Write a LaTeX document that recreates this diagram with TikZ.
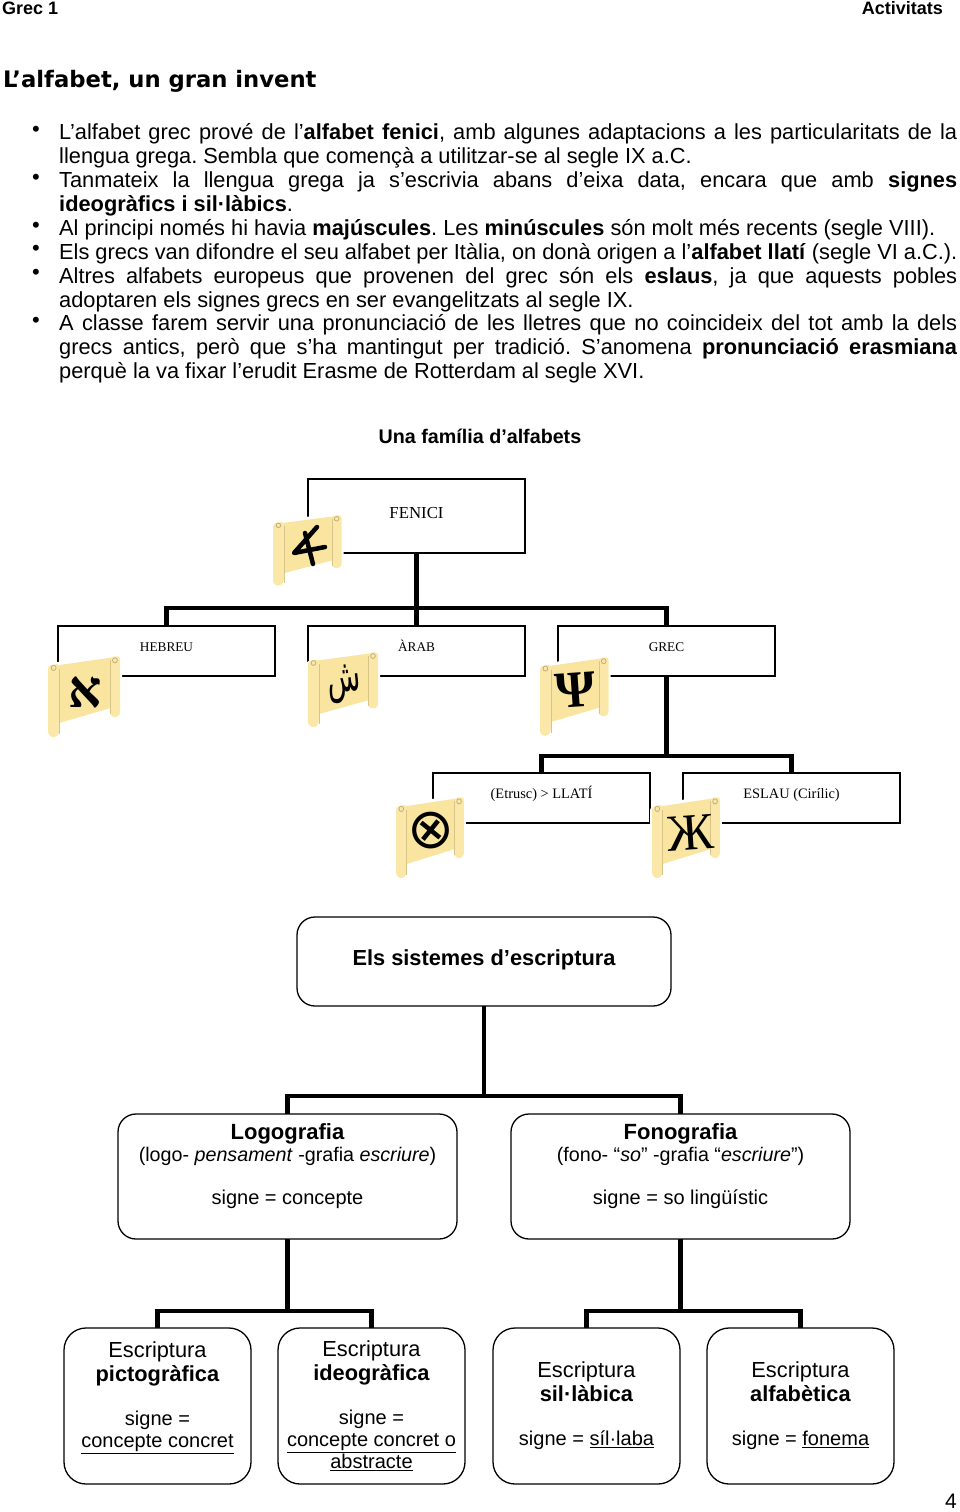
\documentclass[tikz,border=0pt]{standalone}
\usepackage{fontspec}
\setmainfont{Liberation Sans}
\newfontfamily\labelfont{Liberation Serif}
\newfontfamily\headfont{DejaVu Sans}
\newfontfamily\hebrewfont[Script=Hebrew]{Liberation Serif}
\newfontfamily\arabicfont[Script=Arabic]{DejaVu Sans}
\newfontfamily\symbolfont{DejaVu Sans}
\TeXXeTstate=1
\frenchspacing
\usetikzlibrary{positioning}

\tikzset{
  pics/scrollpaper/.style={code={
    % white halo, then the rolled sheet
    \draw[white, line width=4pt, line join=round] (5,8) -- (65,0) -- (70,3) -- (70,53) -- (60,55) -- (11,68) -- (5,75) -- (0,70) -- (0,12) -- cycle;
    \fill[paper] (6,9) -- (65,1) -- (65,47) -- (11,62) -- cycle;
    \fill[roll, rounded corners=3pt] (0,9) -- (11,7) -- (11,72) -- (6,76) -- (0,73) -- cycle;
    \fill[roll, rounded corners=3pt] (60,1) -- (70,0) -- (70,55) -- (65,57) -- (60,55) -- cycle;
    \draw[paperedge, line width=.8pt] (5.5,11) circle (2.4);
    \draw[paperedge, line width=.8pt] (65,4) circle (2.4);
    \draw[paperedge!60!paper, line width=.5pt] (11,12) -- (11,72) (60,4) -- (60,54);
  }}
}
\definecolor{paper}{HTML}{FAE5A0}
\definecolor{roll}{HTML}{FBE8A8}
\definecolor{paperedge}{HTML}{BFAE78}

\begin{document}
\begin{tikzpicture}[
  x=1pt, y=-1pt,
  famil/.style={
    rectangle,
    draw,
    line width=1.3pt,
    outer sep=0pt,
    anchor=north west,
    minimum width=217pt,
    minimum height=#1,
    text height=10pt,
    text depth=10pt,
    align=center
  },
  sistema/.style={
    rectangle,
    draw,
    line width=1.3pt,
    outer sep=0pt,
    rounded corners=18pt,
    anchor=north west,
    font=\fontsize{20}{22}\selectfont,
    align=center,
    inner sep=0pt
  },
  escriptura/.style={
    sistema,
    rounded corners=22pt,
    minimum width=187pt,
    minimum height=156pt
  },
  bullet/.style={
    text width=898pt,
    align=justify,
    anchor=north west,
    inner sep=0pt,
    font=\fontsize{21.8}{24}\selectfont
  },
  dot/.style={font=\fontsize{22}{24}\selectfont, inner sep=0pt},
  glyph/.style={inner sep=0pt, text=black},
  connection/.style={line width=4.6pt, draw=black}
]
\useasboundingbox (0,0) rectangle (960,1512);

% Page head
\node[anchor=west, inner sep=0pt, font=\bfseries\fontsize{18}{20}\selectfont] (grec1) at (2,8) {Grec 1};
\node[anchor=east, inner sep=0pt, font=\bfseries\fontsize{18}{20}\selectfont] (activ) at (943,8) {Activitats};
\node[anchor=west, inner sep=0pt, font=\headfont\bfseries\fontsize{22.7}{26}\selectfont] (titol) at (3,81) {L’alfabet, un gran invent};

% Text with bullets
\node[dot] (d1) at (36,131) {•};
\node[dot] (d2) at (36,179) {•};
\node[dot] (d3) at (36,227) {•};
\node[dot] (d4) at (36,250) {•};
\node[dot] (d5) at (36,274) {•};
\node[dot] (d6) at (36,322) {•};
\node[bullet] (p1) at (59,123) {L’alfabet grec prové de l’\textbf{alfabet fenici}, amb algunes adaptacions a les particularitats de la\linebreak llengua grega. Sembla que començà a utilitzar-se al segle IX a.C.};
\node[bullet] (p2) at (59,172) {Tanmateix la llengua grega ja s’escrivia abans d’eixa data, encara que amb \textbf{signes}\linebreak \textbf{ideogràfics i sil·làbics}.};
\node[bullet] (p3) at (59,219) {Al principi només hi havia \textbf{majúscules}. Les \textbf{minúscules} són molt més recents (segle VIII).};
\node[bullet] (p4) at (59,243) {Els grecs van difondre el seu alfabet per Itàlia, on donà origen a l’\textbf{alfabet llatí} (segle VI a.C.).};
\node[bullet] (p5) at (59,267) {Altres alfabets europeus que provenen del grec són els \textbf{eslaus}, ja que aquests pobles\linebreak adoptaren els signes grecs en ser evangelitzats al segle IX.};
\node[bullet] (p6) at (59,314) {A classe farem servir una pronunciació de les lletres que no coincideix del tot amb la dels\linebreak grecs antics, però que s’ha mantingut per tradició. S’anomena \textbf{pronunciació erasmiana}\linebreak perquè la va fixar l’erudit Erasme de Rotterdam al segle XVI.};

\node[font=\bfseries\fontsize{19.7}{24}\selectfont, inner sep=0pt] (familia) at (480,436) {Una família d’alfabets};

% Alphabet family boxes
\node[famil=74pt, text height=12pt, text depth=7pt, font=\labelfont\fontsize{16.8}{20}\selectfont] (fen) at (308,479) {FENICI};
\node[famil=50pt, font=\labelfont\fontsize{13.3}{18}\selectfont] (heb) at (58,626) {HEBREU};
\node[famil=50pt, font=\labelfont\fontsize{13.3}{18}\selectfont] (ara) at (308,626) {ÀRAB};
\node[famil=50pt, font=\labelfont\fontsize{13.3}{18}\selectfont] (gre) at (558,626) {GREC};
\node[famil=50pt, font=\labelfont\fontsize{14.4}{18}\selectfont] (lat) at (433,773) {(Etrusc) > LLATÍ};
\node[famil=50pt, font=\labelfont\fontsize{14.4}{18}\selectfont] (esl) at (683,773) {ESLAU (Cirílic)};

% Family connections
\coordinate (busa) at (ara.south |- 0,608);
\coordinate (busb) at (gre.south |- 0,756);
\draw[connection] (fen.south) -- (ara.north);
\draw[connection] (heb.north) |- (busa) -| (gre.north);
\draw[connection] (gre.south) -- (busb);
\draw[connection] (lat.north) |- (busb) -| (esl.north);

% Scrolls and their letters
\pic[xscale=.98, yscale=.94] at (273,515) {scrollpaper};
\pic[xscale=1.03, yscale=1.08] at (48,656) {scrollpaper};
\pic at (308,652) {scrollpaper};
\pic[xscale=.98, yscale=1.05] at (540,657) {scrollpaper};
\pic[xscale=.97, yscale=1.08] at (396,797) {scrollpaper};
\pic[xscale=.97, yscale=1.08] at (652,797) {scrollpaper};
\draw[line width=4.5pt, line join=round, line cap=round] (317,527) -- (294,553) -- (325,547) (305,533) -- (313,564);
\node[glyph, font=\hebrewfont\bfseries\fontsize{52}{52}\selectfont] (ghe) at (85,692) {\beginR א\endR};
\node[glyph, rotate=6, xscale=.72, yscale=1.2, transform shape, font=\arabicfont\fontsize{38}{40}\selectfont] (gar) at (344,684) {\beginR ش\endR};
\node[glyph, rotate=4, font=\labelfont\bfseries\fontsize{52}{52}\selectfont] (ggr) at (576,690) {Ψ};
\node[glyph, rotate=6, font=\symbolfont\fontsize{56}{56}\selectfont] (gla) at (431,831) {⊗};
\node[glyph, rotate=4, font=\labelfont\fontsize{52}{52}\selectfont] (gcy) at (691,833) {Ж};

% Writing systems
\node[sistema, minimum width=374pt, minimum height=89pt, text depth=8pt, font=\bfseries\fontsize{21.8}{24}\selectfont] (els) at (297,917) {Els sistemes d’escriptura};
\node[sistema, minimum width=339pt, minimum height=125pt] (log) at (118,1114) {{\bfseries\fontsize{22}{22}\selectfont Logografia}\\\fontsize{19.7}{22}\selectfont(logo- \textit{pensament} -grafia \textit{escriure})\\[21pt]\fontsize{20}{22}\selectfont signe = concepte\\[3pt] };
\node[sistema, minimum width=339pt, minimum height=125pt] (fon) at (511,1114) {{\bfseries\fontsize{22}{22}\selectfont Fonografia}\\\fontsize{19.7}{22}\selectfont(fono- “\textit{so}” -grafia “\textit{escriure}”)\\[21pt]\fontsize{20}{22}\selectfont signe = so lingüístic\\[3pt] };
\node[escriptura] (pic) at (64,1328) {\fontsize{21.8}{24}\selectfont Escriptura\\[2pt]\fontsize{21.8}{24}\selectfont\textbf{pictogràfica}\\[22pt]\fontsize{20}{22}\selectfont signe =\\\underline{concepte concret}\\ };
\node[escriptura] (ide) at (278,1328) {\fontsize{21.8}{24}\selectfont Escriptura\\[2pt]\fontsize{21.8}{24}\selectfont\textbf{ideogràfica}\\[22pt]\fontsize{20}{22}\selectfont signe =\\\underline{concepte concret o}\\\underline{abstracte}};
\node[escriptura] (sil) at (493,1328) {\fontsize{21.8}{24}\selectfont Escriptura\\[2pt]\fontsize{21.8}{24}\selectfont\textbf{sil·làbica}\\[22pt]\fontsize{20}{22}\selectfont signe = \underline{síl·laba}};
\node[escriptura] (alf) at (707,1328) {\fontsize{21.8}{24}\selectfont Escriptura\\[2pt]\fontsize{21.8}{24}\selectfont\textbf{alfabètica}\\[22pt]\fontsize{20}{22}\selectfont signe = \underline{fonema}};

% System connections
\coordinate (busc) at (els.south |- 0,1096);
\coordinate (busd) at (log.south |- 0,1311);
\coordinate (buse) at (fon.south |- 0,1311);
\draw[connection] (els.south) -- (busc);
\draw[connection] (log.north) |- (busc) -| (fon.north);
\draw[connection] (log.south) -- (busd);
\draw[connection] (pic.north) |- (busd) -| (ide.north);
\draw[connection] (fon.south) -- (buse);
\draw[connection] (sil.north) |- (buse) -| (alf.north);

\node[inner sep=0pt, font=\fontsize{21}{24}\selectfont] (pagina) at (951,1501) {4};
\end{tikzpicture}
\end{document}
